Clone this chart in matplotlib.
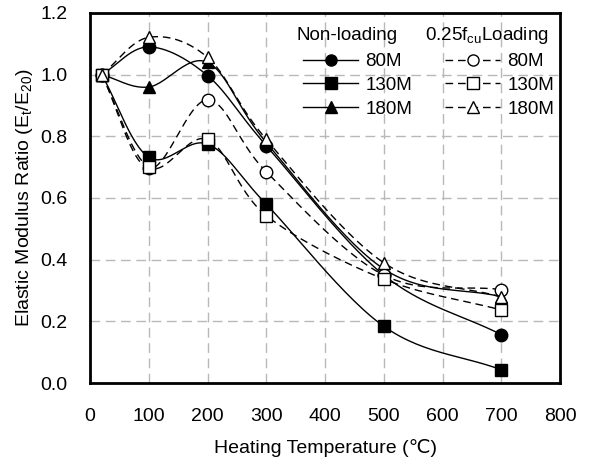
import numpy as np
import matplotlib
matplotlib.use("Agg")
import matplotlib.pyplot as plt
from matplotlib.lines import Line2D

plt.rcParams['font.family'] = ['Liberation Sans', 'DejaVu Sans']
plt.rcParams['mathtext.default'] = 'regular'

# 数据
temps = [20, 100, 200, 300, 500, 700]
labels = ['80M', '130M', '180M']
non_loading = {
    '80M': [1.0, 1.09, 0.997, 0.77, 0.35, 0.157],
    '130M': [1.0, 0.732, 0.775, 0.58, 0.184, 0.043],
    '180M': [1.0, 0.96, 1.04, 0.78, 0.37, 0.28],
}
loading = {
    '80M': [1.0, 0.696, 0.918, 0.685, 0.35, 0.303],
    '130M': [1.0, 0.70, 0.79, 0.543, 0.337, 0.237],
    '180M': [1.0, 1.121, 1.056, 0.79, 0.39, 0.279],
}
markers = {'80M': 'o', '130M': 's', '180M': '^'}
x_ticks = list(range(0, 801, 100))
y_ticks = [0.0, 0.2, 0.4, 0.6, 0.8, 1.0, 1.2]


def smooth(x, y, n=30):
    # Catmull-Rom 平滑曲线（类似 Excel 平滑线）
    x = np.asarray(x, float)
    y = np.asarray(y, float)
    px = np.concatenate([[2 * x[0] - x[1]], x, [2 * x[-1] - x[-2]]])
    py = np.concatenate([[2 * y[0] - y[1]], y, [2 * y[-1] - y[-2]]])
    xs, ys = [], []
    t = np.linspace(0, 1, n)
    for i in range(1, len(px) - 2):
        p0, p1, p2, p3 = px[i - 1], px[i], px[i + 1], px[i + 2]
        q0, q1, q2, q3 = py[i - 1], py[i], py[i + 1], py[i + 2]
        c1x, c1y = p1 + (p2 - p0) / 6, q1 + (q2 - q0) / 6
        c2x, c2y = p2 - (p3 - p1) / 6, q2 - (q3 - q1) / 6
        bx = (1 - t) ** 3 * p1 + 3 * (1 - t) ** 2 * t * c1x + 3 * (1 - t) * t ** 2 * c2x + t ** 3 * p2
        by = (1 - t) ** 3 * q1 + 3 * (1 - t) ** 2 * t * c1y + 3 * (1 - t) * t ** 2 * c2y + t ** 3 * q2
        xs.extend(bx)
        ys.extend(by)
    return np.array(xs), np.array(ys)


W, H = 589, 465
fig = plt.figure(figsize=(W / 100, H / 100), dpi=100)
ax = fig.add_axes([90 / W, 1 - 383 / H, 470 / W, 370 / H])

dash = (0, (5.5, 3.5))
for lab in labels:
    sx, sy = smooth(temps, loading[lab])
    ax.plot(sx, sy, color='black', lw=1.0, ls=dash, zorder=3)
    ax.plot(temps, loading[lab], ls='none', marker=markers[lab], ms=9,
            mfc='white', mec='black', mew=1.0, zorder=5)
for lab in labels:
    sx, sy = smooth(temps, non_loading[lab])
    ax.plot(sx, sy, color='black', lw=1.0, zorder=3)
    ax.plot(temps, non_loading[lab], ls='none', marker=markers[lab], ms=9,
            mfc='black', mec='black', zorder=4)

ax.set_xlim(0, 800)
ax.set_ylim(0, 1.2)
ax.set_xticks(x_ticks)
ax.set_yticks(y_ticks)
ax.set_yticklabels([f'{v:.1f}' for v in y_ticks])
ax.tick_params(length=0, labelsize=14)
ax.tick_params(axis='x', pad=18)
ax.tick_params(axis='y', pad=16)
ax.grid(True, color='#b8b8b8', ls=(0, (7, 4)), lw=1.0)
ax.set_axisbelow(True)
for s in ax.spines.values():
    s.set_linewidth(2.0)

ax.set_xlabel('Heating Temperature (℃)', fontsize=14, labelpad=10)
ax.set_ylabel('Elastic Modulus Ratio (E$_t$/E$_{20}$)', fontsize=14, labelpad=4)

# 图例
handles = []
names = []
for lab in labels:
    handles.append(Line2D([], [], color='black', lw=1.0, marker=markers[lab], ms=8,
                          mfc='black', mec='black'))
    names.append(lab)
for lab in labels:
    handles.append(Line2D([], [], color='black', lw=1.0, ls=dash, marker=markers[lab], ms=8,
                          mfc='white', mec='black'))
    names.append(lab)
leg = fig.legend(handles, names, ncol=2, loc='upper left',
                 bbox_to_anchor=(303 / W, 1 - 53 / H), borderpad=0, borderaxespad=0,
                 frameon=False, fontsize=13.5, handlelength=2.95, handletextpad=0.37,
                 columnspacing=1.75, labelspacing=0.36)
fig.text(297 / W, 1 - 36 / H, 'Non-loading', fontsize=13.5, va='center')
fig.text(425 / W, 1 - 36 / H, '0.25f$_{cu}$Loading', fontsize=13.5, va='center')

fig.savefig('out.png', dpi=100)
